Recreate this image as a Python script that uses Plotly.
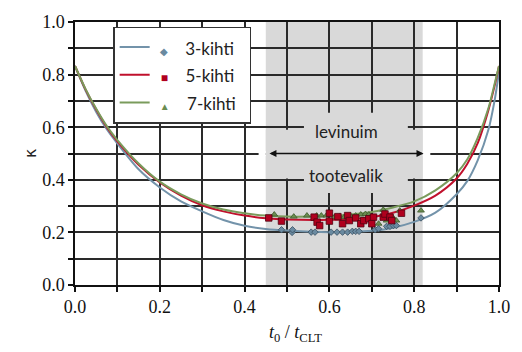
import plotly.graph_objects as go

# ---- data ----
curve_x = [0, 0.025, 0.05, 0.075, 0.1, 0.15, 0.2, 0.25, 0.3, 0.35, 0.4, 0.45, 0.5, 0.6,
           0.7, 0.75, 0.8, 0.85, 0.9, 0.925, 0.95, 0.975, 0.99, 1.0]
k3_curve = [0.833, 0.738, 0.658, 0.592, 0.538, 0.44, 0.371, 0.318, 0.28, 0.247, 0.225, 0.213, 0.207, 0.201,
            0.206, 0.218, 0.24, 0.275, 0.345, 0.395, 0.475, 0.59, 0.705, 0.81]
k5_curve = [0.833, 0.743, 0.667, 0.600, 0.546, 0.457, 0.39, 0.34, 0.303, 0.28, 0.264, 0.254, 0.249, 0.248,
            0.258, 0.275, 0.302, 0.34, 0.405, 0.46, 0.54, 0.665, 0.76, 0.833]
k7_curve = [0.833, 0.745, 0.670, 0.604, 0.551, 0.462, 0.393, 0.345, 0.31, 0.287, 0.273, 0.264, 0.26, 0.263,
            0.278, 0.295, 0.318, 0.36, 0.425, 0.477, 0.56, 0.672, 0.767, 0.833]

k3_pts_x = [0.487, 0.512, 0.513, 0.557, 0.566, 0.604, 0.618, 0.631, 0.643, 0.654, 0.662, 0.670,
            0.708, 0.716, 0.735, 0.743, 0.751, 0.758, 0.816]
k3_pts_y = [0.210, 0.200, 0.210, 0.201, 0.201, 0.201, 0.201, 0.201, 0.201, 0.204, 0.204, 0.204,
            0.210, 0.214, 0.223, 0.223, 0.226, 0.226, 0.255]

k5_pts_x = [0.457, 0.487, 0.564, 0.571, 0.577, 0.600, 0.600, 0.620, 0.631, 0.643, 0.647, 0.662,
            0.674, 0.681, 0.693, 0.700, 0.704, 0.727, 0.731, 0.743, 0.747, 0.770]
k5_pts_y = [0.255, 0.243, 0.258, 0.239, 0.226, 0.273, 0.243, 0.260, 0.233, 0.264, 0.245, 0.255,
            0.233, 0.245, 0.252, 0.233, 0.258, 0.258, 0.270, 0.258, 0.245, 0.273]

k7_pts_x = [0.470, 0.516, 0.547, 0.570, 0.581, 0.593, 0.612, 0.624, 0.635, 0.651, 0.662, 0.674,
            0.685, 0.693, 0.716, 0.727, 0.735, 0.749, 0.758, 0.766, 0.816]
k7_pts_y = [0.268, 0.260, 0.264, 0.264, 0.264, 0.264, 0.258, 0.260, 0.258, 0.260, 0.264, 0.268,
            0.270, 0.268, 0.233, 0.286, 0.245, 0.258, 0.245, 0.283, 0.283]

series_names = ["3-kihti", "5-kihti", "7-kihti"]
band = [0.45, 0.82]          # shaded range (levinuim tootevalik)
arrow_range = [0.455, 0.822]
x_ticks = [0, 0.1, 0.2, 0.3, 0.4, 0.5, 0.6, 0.7, 0.8, 0.9, 1.0]
x_ticktext = ["0.0", "", "0.2", "", "0.4", "", "0.6", "", "0.8", "", "1.0"]
y_ticks = x_ticks
y_ticktext = x_ticktext

# ---- styles ----
c3, c5, c7 = "#7393aa", "#c0102c", "#7a9b5c"
m3, m5, m7 = "#6a8aa0", "#b0001e", "#6b8c50"
grid_c = "#2a2a2a"
gray = "#d9d9d9"
serif = "Liberation Serif"
sans = "Lato"

fig = go.Figure()

def legname(sym, col, size, name):
    return (f"<span style='color:{col};font-size:{size}px'>&nbsp;&nbsp;{sym}</span>"
            f"<span style='font-size:17px'>&nbsp;&nbsp;&nbsp;&nbsp;{name}&nbsp;&nbsp;</span>")

line_kw = dict(width=2, shape="spline", smoothing=0.8)
fig.add_trace(go.Scatter(x=curve_x, y=k3_curve, mode="lines", line=dict(color=c3, **line_kw),
                         name=legname("◆", m3, 10, series_names[0])))
fig.add_trace(go.Scatter(x=curve_x, y=k5_curve, mode="lines", line=dict(color=c5, **line_kw),
                         name=legname("■", m5, 12, series_names[1])))
fig.add_trace(go.Scatter(x=curve_x, y=k7_curve, mode="lines", line=dict(color=c7, **line_kw),
                         name=legname("▲", m7, 10, series_names[2])))

fig.add_trace(go.Scatter(x=k3_pts_x, y=k3_pts_y, mode="markers", showlegend=False,
                         marker=dict(symbol="diamond", size=5, color=m3, line=dict(color="#3a5062", width=0.8))))
fig.add_trace(go.Scatter(x=k7_pts_x, y=k7_pts_y, mode="markers", showlegend=False,
                         marker=dict(symbol="triangle-up", size=6, color=m7, line=dict(color="#3d5a2c", width=0.8))))
fig.add_trace(go.Scatter(x=k5_pts_x, y=k5_pts_y, mode="markers", showlegend=False,
                         marker=dict(symbol="square", size=6.5, color=m5, line=dict(color="#500010", width=0.8))))

# shaded band below grid
fig.add_shape(type="rect", xref="x", yref="y", x0=band[0], x1=band[1], y0=0, y1=1,
              fillcolor=gray, line=dict(width=0), layer="below")
# gaps in grid around the annotation
fig.add_shape(type="rect", xref="x", yref="y", x0=0.54, x1=0.785, y0=0.35, y1=0.655,
              fillcolor=gray, line=dict(width=0), layer="between")
fig.add_shape(type="rect", xref="x", yref="y", x0=band[0], x1=band[1], y0=0.405, y1=0.59,
              fillcolor=gray, line=dict(width=0), layer="between")
fig.add_shape(type="rect", xref="x", yref="y", x0=0.433, x1=band[0], y0=0.49, y1=0.51,
              fillcolor="white", line=dict(width=0), layer="between")
fig.add_shape(type="rect", xref="x", yref="y", x0=band[1], x1=0.838, y0=0.49, y1=0.51,
              fillcolor="white", line=dict(width=0), layer="between")

# double arrow
fig.add_annotation(x=arrow_range[1], y=0.5, ax=arrow_range[0], ay=0.5, xref="x", yref="y",
                   axref="x", ayref="y", text="", showarrow=True, arrowside="end+start",
                   arrowhead=2, startarrowhead=2, arrowsize=1, startarrowsize=1,
                   arrowwidth=1.4, arrowcolor="#111111", standoff=0, startstandoff=0)
fig.add_annotation(x=0.64, y=0.583, xref="x", yref="y", text="levinuim", showarrow=False,
                   font=dict(family=sans, size=17, color="#222222"), bgcolor=gray)
fig.add_annotation(x=0.64, y=0.415, xref="x", yref="y", text="tootevalik", showarrow=False,
                   font=dict(family=sans, size=17, color="#222222"), bgcolor=gray)

# axis titles
fig.add_annotation(x=0.52, y=-0.185, xref="paper", yref="paper",
                   text="<i>t</i><sub>0</sub> / <i>t</i><sub>CLT</sub>", showarrow=False,
                   font=dict(family=serif, size=18, color="#111111"), yanchor="middle")
fig.add_annotation(x=-0.132, y=0.5, xref="paper", yref="paper", text="κ", showarrow=False,
                   font=dict(family="DejaVu Sans", size=16, color="#222222"), textangle=-90)

axis_common = dict(range=[0, 1], showgrid=True, gridcolor=grid_c, gridwidth=1.5,
                   showline=True, linecolor="#111111", linewidth=1.5, mirror=True,
                   ticks="outside", ticklen=5, tickwidth=1.5, tickcolor="#111111",
                   zeroline=False, ticklabeloverflow="allow",
                   tickfont=dict(family=serif, size=18, color="#111111"))
fig.update_xaxes(**axis_common, tickvals=x_ticks, ticktext=x_ticktext)
fig.update_yaxes(**axis_common, tickvals=y_ticks, ticktext=y_ticktext)

fig.update_layout(
    width=522, height=352,
    margin=dict(l=75, r=14, t=20, b=67),
    plot_bgcolor="white", paper_bgcolor="white",
    legend=dict(x=0.09, y=0.982, xanchor="left", yanchor="top",
                bgcolor="white", bordercolor="#333333", borderwidth=1.5,
                font=dict(family=sans, size=19, color="#222222"),
                tracegroupgap=0),
)

# remove the default 8px page margin so the figure fills the 522x352 window exactly
fig.write_html("out.html", config={"displayModeBar": False},
               post_script="document.body.style.margin='0px';")
